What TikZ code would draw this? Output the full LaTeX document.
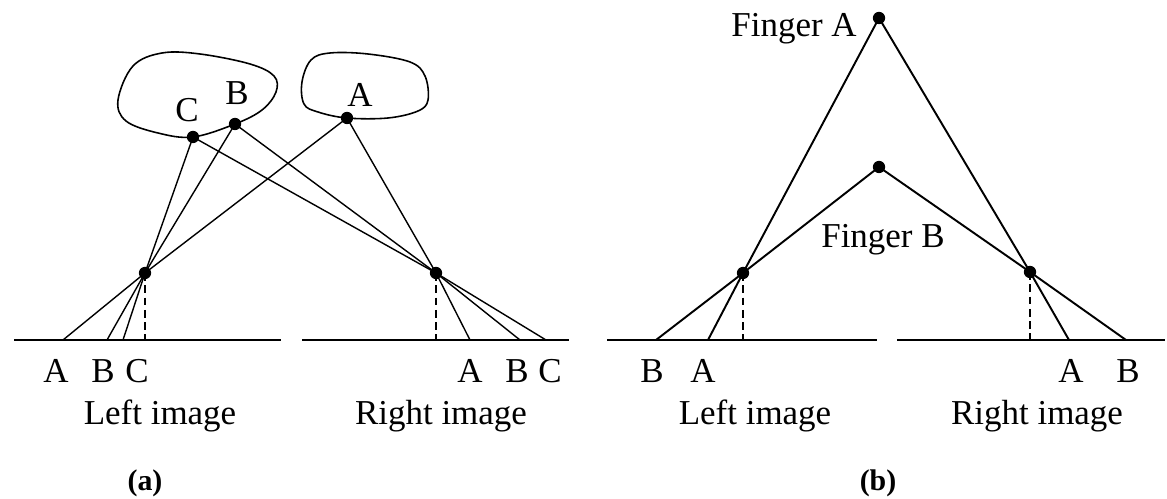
\documentclass[tikz,border=0pt]{standalone}
\usepackage{fontspec}
\setmainfont{Liberation Serif}
\usepackage{tikz}
\usetikzlibrary{positioning}

\tikzset{
  dot/.style={circle, fill=black, inner sep=0pt, minimum size=7pt},
  ray/.style={line width=0.8pt},
  bray/.style={line width=1.1pt},
  axis/.style={line width=1.1pt},
  plumb/.style={line width=0.9pt, dash pattern=on 4.5pt off 2.5pt},
  lbl/.style={anchor=base, inner sep=0pt, font=\fontsize{19.9}{24}\selectfont},
  caption/.style={lbl, font=\fontsize{17}{20}\selectfont\bfseries},
}

\begin{document}
\begin{tikzpicture}[x=0.02cm, y=-0.02cm]
\useasboundingbox (0,0) rectangle (1167,499);

% ---- (a) three points seen by two cameras
\coordinate (la0) at (14,340);   \coordinate (la1) at (281,340);
\coordinate (ra0) at (302,340);  \coordinate (ra1) at (569,340);
\draw[axis] (la0) -- (la1);
\draw[axis] (ra0) -- (ra1);

\draw[line width=0.9pt] plot[smooth cycle, tension=0.6] coordinates {
  (118,100) (133,66) (162,53) (200,54) (250,64) (274,76) (276,92)
  (262,110) (235,124) (193,137) (158,133) (126,121)};
\draw[line width=0.9pt] plot[smooth cycle, tension=0.6] coordinates {
  (302,82) (311,60) (330,53) (368,54) (410,62) (425,76) (428,100)
  (418,111) (388,118) (347,118) (318,112) (304,104)};

\node[dot] (objC) at (193,137) {};
\node[dot] (objB) at (235,124) {};
\node[dot] (objA) at (347,118) {};
\node[dot] (lensL) at (145,273) {};
\node[dot] (lensR) at (436,273) {};

\coordinate (imLA) at (63,340);  \coordinate (imLB) at (107,340);  \coordinate (imLC) at (123,340);
\coordinate (imRA) at (470,340); \coordinate (imRB) at (520,340); \coordinate (imRC) at (546,340);
\coordinate (ftL) at (145,340);  \coordinate (ftR) at (436,340);

\draw[ray] (objA.center) -- (lensL.center) -- (imLA);
\draw[ray] (objB.center) -- (lensL.center) -- (imLB);
\draw[ray] (objC.center) -- (lensL.center) -- (imLC);
\draw[ray] (objA.center) -- (lensR.center) -- (imRA);
\draw[ray] (objB.center) -- (lensR.center) -- (imRB);
\draw[ray] (objC.center) -- (lensR.center) -- (imRC);
\draw[plumb] (lensL.center) -- (ftL);
\draw[plumb] (lensR.center) -- (ftR);

\node[lbl] (tC) at (187,122) {C};
\node[lbl] (tB) at (237,105) {B};
\node[lbl] (tA) at (360,107) {A};

\node[lbl] (lA) at (56,383) {A};
\node[lbl] (lB) at (103,383) {B};
\node[lbl] (lC) at (137,383) {C};
\node[lbl] (rA) at (470,383) {A};
\node[lbl] (rB) at (517,383) {B};
\node[lbl] (rC) at (550,383) {C};
\node[lbl] (leftA) at (160,425) {Left image};
\node[lbl] (rightA) at (441,425) {Right image};
\node[caption] (capA) at (145,491) {(a)};

% ---- (b) two fingers, ambiguous match
\coordinate (lb0) at (607,340);  \coordinate (lb1) at (877,340);
\coordinate (rb0) at (897,340);  \coordinate (rb1) at (1165,340);
\draw[axis] (lb0) -- (lb1);
\draw[axis] (rb0) -- (rb1);

\node[dot] (fingA) at (879,18) {};
\node[dot] (fingB) at (879,167) {};
\node[dot] (camL) at (743,273) {};
\node[dot] (camR) at (1030,272) {};

\coordinate (pLB) at (656,340);  \coordinate (pLA) at (708,340);
\coordinate (pRA) at (1069,340); \coordinate (pRB) at (1126,340);
\coordinate (fbL) at (743,340);  \coordinate (fbR) at (1030,340);

\draw[bray] (fingA.center) -- (camL.center) -- (pLA);
\draw[bray] (fingB.center) -- (camL.center) -- (pLB);
\draw[bray] (fingA.center) -- (camR.center) -- (pRA);
\draw[bray] (fingB.center) -- (camR.center) -- (pRB);
\draw[plumb] (camL.center) -- (fbL);
\draw[plumb] (camR.center) -- (fbR);

\node[lbl, anchor=base east] (nameA) at (857,37) {Finger A};
\node[lbl] (nameB) at (883,248) {Finger B};

\node[lbl] (bB) at (652,383) {B};
\node[lbl] (bA) at (703,383) {A};
\node[lbl] (cA) at (1071,383) {A};
\node[lbl] (cB) at (1128,383) {B};
\node[lbl] (leftB) at (755,425) {Left image};
\node[lbl] (rightB) at (1037,425) {Right image};
\node[caption] (capB) at (878,491) {(b)};
\end{tikzpicture}
\end{document}
